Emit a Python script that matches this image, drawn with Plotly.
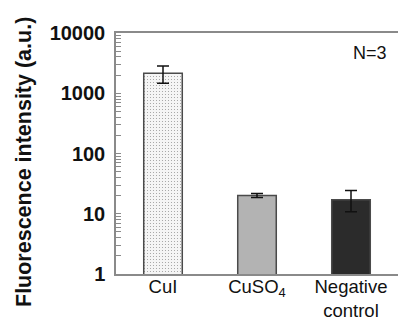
import plotly.graph_objects as go

categories = ["CuI", "CuSO<sub>4</sub>", "Negative<br>control"]
values = [2150, 20, 17]
err_plus = [680, 1.6, 7.3]
err_minus = [690, 1.4, 6.2]
fills = ["#f5f5f5", "#b3b3b3", "#2b2b2b"]

decades = [1, 10, 100, 1000, 10000]
decade_labels = ["1", "10", "100", "1000", "10000"]

minor_vals = [d * m for d in decades[:-1] for m in range(2, 10)]

fig = go.Figure()
fig.add_trace(go.Bar(
    x=categories, y=values,
    width=0.41,
    marker=dict(color=fills, line=dict(color="#4a4a4a", width=1.5),
                pattern=dict(shape=[".", "", ""], fgcolor="#e2e2e2", size=3, solidity=0.12)),
    error_y=dict(type="data", array=err_plus, arrayminus=err_minus, visible=True,
                 color="#111111", thickness=1.5, width=6),
    showlegend=False,
))

font = "Liberation Sans, Arial, sans-serif"
fig.update_layout(
    width=398, height=322,
    margin=dict(l=116, r=0, t=33, b=48),
    paper_bgcolor="white", plot_bgcolor="white",
    font=dict(family=font, color="#111111"),
    xaxis=dict(range=[-0.5, 2.5], showline=True, linecolor="#8a8a8a", linewidth=1.5,
               mirror=True, ticks="", tickfont=dict(size=18.5, family=font, color="#111111"),
               ticklabelstandoff=-5, automargin=False,
               showgrid=False, zeroline=False),
    yaxis=dict(type="log", range=[0, 4], showline=True, linecolor="#8a8a8a", linewidth=1.5,
               tickvals=decades, ticktext=decade_labels, ticks="inside", ticklen=5,
               tickcolor="#8a8a8a", tickwidth=1, automargin=False,
               minor=dict(tickvals=minor_vals, ticks="inside", ticklen=5,
                          tickcolor="#8a8a8a", tickwidth=1, showgrid=False),
               tickfont=dict(size=20, family=font, color="#111111", weight="bold"),
               ticklabelstandoff=5, showgrid=False, zeroline=False),
    annotations=[
        dict(text="<b>Fluorescence intensity (a.u.)</b>", textangle=-90,
             xref="paper", yref="paper", x=-0.326, y=0.465, showarrow=False,
             xanchor="center", yanchor="middle",
             font=dict(size=21.5, family=font, color="#111111")),
        dict(text="N=3", xref="paper", yref="paper", x=0.968, y=0.917,
             xanchor="right", yanchor="middle", showarrow=False,
             font=dict(size=18, family=font, color="#111111")),
    ],
)

fig.write_html("out.html", config={"displayModeBar": False},
               post_script="document.body.style.margin='0';document.body.style.overflow='hidden';")
